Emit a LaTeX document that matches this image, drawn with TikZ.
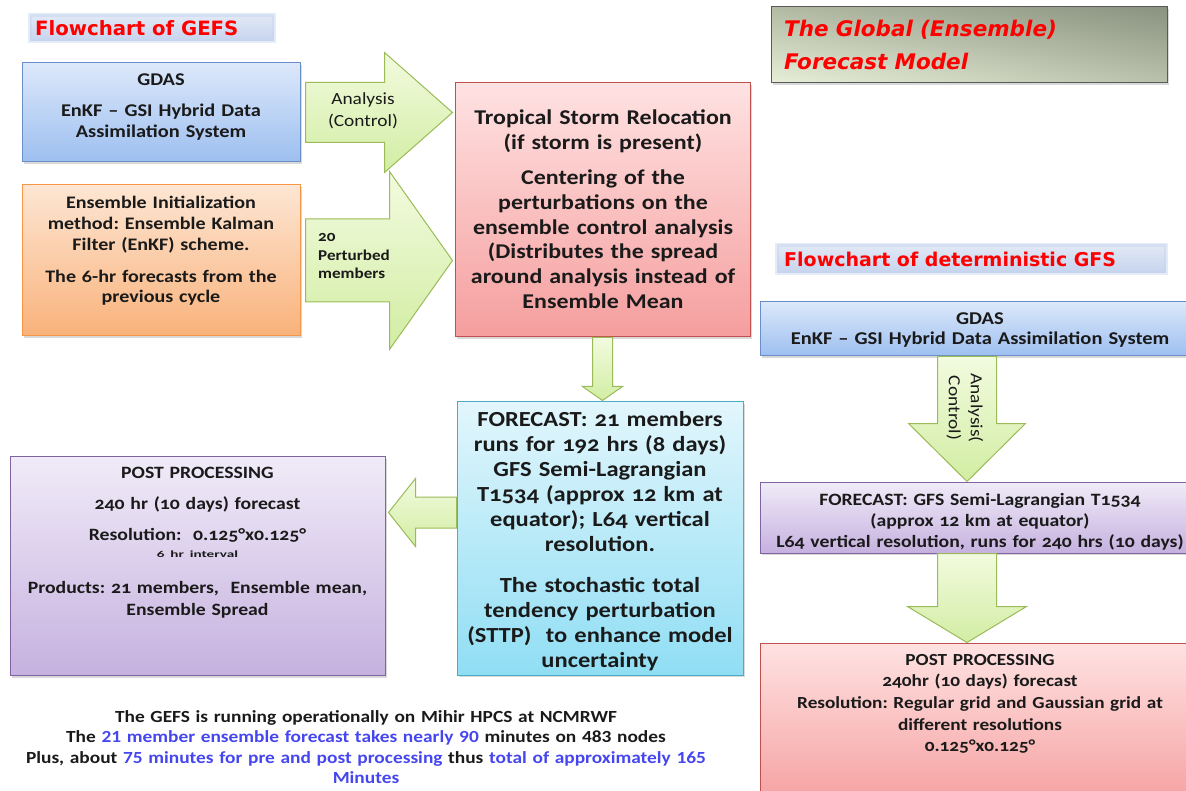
\documentclass[tikz,border=0pt]{standalone}
\usepackage{fontspec}
\setmainfont{Carlito}[FakeStretch=1.14, Numbers=OldStyle]
\newfontfamily\titlefont{DejaVu Sans}
\newfontfamily\smallfont{Carlito}[FakeStretch=1.6, Numbers=OldStyle]
\usetikzlibrary{calc,shadows,shadings}
\frenchspacing
\definecolor{bluetop}{HTML}{DCE8FA}
\definecolor{bluebot}{HTML}{9DBFF0}
\definecolor{bluebd}{HTML}{6A8FC8}
\definecolor{orgtop}{HTML}{FDE6D3}
\definecolor{orgbot}{HTML}{F9B27B}
\definecolor{orgbd}{HTML}{F79646}
\definecolor{pinktop}{HTML}{FFE2E2}
\definecolor{pinkbot}{HTML}{F59E9E}
\definecolor{pinkbd}{HTML}{C0504D}
\definecolor{cyantop}{HTML}{E2F6FC}
\definecolor{cyanbot}{HTML}{90DEF4}
\definecolor{cyanbd}{HTML}{4BACC6}
\definecolor{purtop}{HTML}{F0EBF8}
\definecolor{purbot}{HTML}{C6B1DF}
\definecolor{purbd}{HTML}{8064A2}
\definecolor{grntop}{HTML}{F2FBDF}
\definecolor{grnbot}{HTML}{D2EDA3}
\definecolor{grnbd}{HTML}{9BBB59}
\definecolor{tblue}{HTML}{4646F0}
\definecolor{titletop}{HTML}{E2E9F6}
\definecolor{titlebot}{HTML}{C6D4EE}
\definecolor{txtdark}{HTML}{1A1A1A}

\newcommand\blockR[6]{\path[#1] let \p1=#2, \p2=#3 in (\x1,\y1+#4pt) -- (\x2-#6pt,\y1+#4pt) -- (\x2-#6pt,\y1+#5pt) -- (\x2,\y1) -- (\x2-#6pt,\y1-#5pt) -- (\x2-#6pt,\y1-#4pt) -- (\x1,\y1-#4pt) -- cycle;}
\newcommand\blockL[6]{\path[#1] let \p1=#2, \p2=#3 in (\x1,\y1+#4pt) -- (\x2+#6pt,\y1+#4pt) -- (\x2+#6pt,\y1+#5pt) -- (\x2,\y1) -- (\x2+#6pt,\y1-#5pt) -- (\x2+#6pt,\y1-#4pt) -- (\x1,\y1-#4pt) -- cycle;}
\newcommand\blockD[6]{\path[#1] let \p1=#2, \p2=#3 in (\x1-#4pt,\y1) -- (\x1-#4pt,\y2+#6pt) -- (\x1-#5pt,\y2+#6pt) -- (\x1,\y2) -- (\x1+#5pt,\y2+#6pt) -- (\x1+#4pt,\y2+#6pt) -- (\x1+#4pt,\y1) -- cycle;}

\begin{document}
\begin{tikzpicture}[x=1pt,y=-1pt,
  box/.style={draw, line width=1pt, inner sep=0pt,
    drop shadow={opacity=0.3, shadow xshift=2pt, shadow yshift=-2pt}},
  bluebox/.style={box, draw=bluebd, top color=bluetop, bottom color=bluebot},
  orgbox/.style={box, draw=orgbd, top color=orgtop, bottom color=orgbot},
  pinkbox/.style={box, draw=pinkbd, top color=pinktop, bottom color=pinkbot},
  cyanbox/.style={box, draw=cyanbd, top color=cyantop, bottom color=cyanbot},
  purbox/.style={box, draw=purbd, top color=purtop, bottom color=purbot},
  garrow/.style={draw=grnbd, line width=1pt, line join=miter, top color=grntop, bottom color=grnbot},
  btxt/.style={anchor=base, align=center, inner sep=0pt, text=txtdark},
  ttl/.style={anchor=base west, inner sep=0pt, text=red},
  ttlbg/.style={draw=titlebot, draw opacity=0.45, line width=4pt, top color=titletop, bottom color=titlebot},
]
\useasboundingbox (0,0) rectangle (1186,791);
\clip (0,0) rectangle (1186,791);

% ---------- titles ----------
\path[ttlbg] (30,15) rectangle (274,41);
\node[ttl, font=\titlefont\bfseries\fontsize{19.7}{24}\selectfont] (title1) at (35,36) {Flowchart of GEFS};

\path[ttlbg] (777,245) rectangle (1166,273);
\node[ttl, font=\titlefont\bfseries\fontsize{19}{23}\selectfont] (title2) at (784,267) {Flowchart of deterministic GFS};

\node[draw=black!65, line width=1pt, minimum width=396, minimum height=76, inner sep=0pt,
  upper left={rgb,255:red,178;green,186;blue,164}, upper right={rgb,255:red,138;green,147;blue,128},
  lower left={rgb,255:red,232;green,239;blue,217}, lower right={rgb,255:red,186;green,193;blue,172},
  drop shadow={opacity=0.3, shadow xshift=2pt, shadow yshift=-2pt}] (gfm) at (969,45) {};
\node[anchor=base west, inner sep=0pt, text=red, text width=380, align=left,
  font=\titlefont\bfseries\itshape\fontsize{21.5}{33}\selectfont] (gfmtxt) at (784,37)
  {The Global (Ensemble)\\Forecast Model};

% ---------- GEFS boxes ----------
\node[bluebox, minimum width=278, minimum height=99] (gdasL) at (161,112.5) {};
\node[orgbox, minimum width=278, minimum height=151] (ens) at (161,260.5) {};
\node[pinkbox, minimum width=295, minimum height=254] (reloc) at (602.5,210) {};
\node[cyanbox, minimum width=286, minimum height=273] (cyan) at (600,538.5) {};
\node[purbox, minimum width=375, minimum height=219] (post) at (197.5,566) {};

% ---------- deterministic GFS boxes ----------
\node[bluebox, minimum width=440, minimum height=54] (gdasR) at (980,329) {};
\node[purbox, minimum width=440, minimum height=71] (purR) at (980,517.5) {};
\node[pinkbox, minimum width=440, minimum height=167] (pinkR) at (980,726.5) {};

% ---------- block arrows ----------
\blockR{garrow}{($(gdasL.east)+(5,0)$)}{($(reloc.west)+(-2,0)$)}{30}{60}{68}
\blockR{garrow}{($(ens.east)+(5,0)$)}{($(reloc.west)+(-2,0)$)}{41.5}{89}{63}
\blockD{garrow}{(reloc.south)}{($(cyan.north)+(0,-1)$)}{10}{20}{14}
\blockL{garrow}{($(cyan.west)+(0,-26)$)}{($(post.east)+(3,0)$)}{15.5}{34}{27}
\blockD{garrow}{($(gdasR.south)+(-13,0)$)}{(purR.north)}{29.5}{58.5}{58}
\blockD{garrow}{($(purR.south)+(-13,0)$)}{(pinkR.north)}{29.5}{59.5}{36}

% ---------- arrow labels ----------
\node[btxt, text width=90, font=\fontsize{17}{22}\selectfont] (lbl1) at (363,105) {Analysis\\(Control)};
\node[anchor=base west, inner sep=0pt, text width=75, align=left, text=txtdark,
  font=\bfseries\fontsize{15}{18.5}\selectfont] (lbl2) at (318,242) {20\\Perturbed\\members};
\node[inner sep=0pt, rotate=-90, align=center, text=txtdark,
  font=\fontsize{17}{22}\selectfont] (lbl3) at (965,408) {Analysis(\\Control)};

% ---------- box texts ----------
\node[btxt, text width=270, font=\bfseries\fontsize{17.9}{20.5}\selectfont] (gdasLtxt) at (161,85.5)
  {GDAS\\[11pt]EnKF – GSI Hybrid Data\\Assimilation System};
\node[btxt, text width=270, font=\bfseries\fontsize{17.6}{20.7}\selectfont] (enstxt) at (161,209)
  {Ensemble Initialization\\method: Ensemble Kalman\\Filter (EnKF) scheme.\\[11pt]The 6-hr forecasts from the\\previous cycle};
\node[btxt, text width=290, font=\bfseries\fontsize{21}{24.8}\selectfont] (reloctxt) at (603,125)
  {Tropical Storm Relocation\\(if storm is present)\\[10pt]Centering of the\\perturbations on the\\ensemble control analysis\\(Distributes the spread\\around analysis instead of\\Ensemble Mean};
\node[btxt, text width=284, font=\bfseries\fontsize{21.5}{25.2}\selectfont] (cyantxt) at (600,426)
  {FORECAST: 21 members\\runs for 192 hrs (8 days)\\GFS Semi-Lagrangian\\T1534 (approx 12 km at\\equator); L64 vertical\\resolution.\\[15pt]The stochastic total\\tendency perturbation\\(STTP)~ to enhance model\\uncertainty};
\node[btxt, text width=370, font=\bfseries\fontsize{17.3}{21}\selectfont] (posttxt) at (197.5,478)
  {POST PROCESSING\\[11pt]240 hr (10 days) forecast\\[9pt]Resolution:~ 0.125°x0.125°\\[-4pt]{\smallfont\bfseries\fontsize{9.5}{10}\selectfont 6 hr interval\hspace*{19pt}}\\[15pt]Products: 21 members,~ Ensemble mean,\\[1pt]Ensemble Spread};
\node[btxt, text width=430, font=\bfseries\fontsize{18}{20}\selectfont] (gdasRtxt) at (980,325)
  {GDAS\\EnKF – GSI Hybrid Data Assimilation System};
\node[btxt, text width=470, font=\bfseries\fontsize{17.3}{21}\selectfont] (purRtxt) at (980,505)
  {FORECAST: GFS Semi-Lagrangian T1534\\(approx 12 km at equator)\\L64 vertical resolution, runs for 240 hrs (10 days)};
\node[btxt, text width=430, font=\bfseries\fontsize{16.9}{21.7}\selectfont] (pinkRtxt) at (980,665)
  {POST PROCESSING\\240hr (10 days) forecast\\Resolution: Regular grid and Gaussian grid at\\different resolutions\\0.125°x0.125°};

% ---------- bottom note ----------
\node[btxt, text width=730, font=\bfseries\fontsize{17}{20.5}\selectfont\addfontfeature{Numbers=Lining}] (note) at (366,722)
  {The GEFS is running operationally on Mihir HPCS at NCMRWF\\
   The \textcolor{tblue}{21 member ensemble forecast takes nearly 90} minutes on 483 nodes\\
   Plus, about \textcolor{tblue}{75 minutes for pre and post processing} thus \textcolor{tblue}{total of approximately 165}\\
   \textcolor{tblue}{Minutes}};
\end{tikzpicture}
\end{document}
